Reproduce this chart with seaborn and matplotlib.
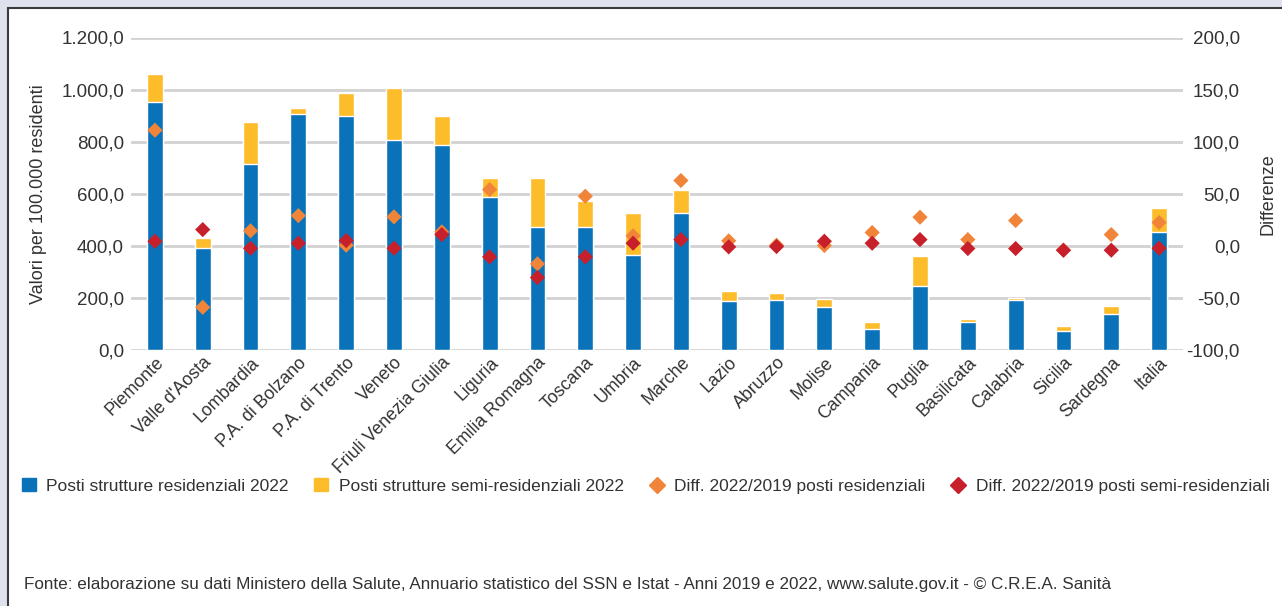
import numpy as np
import pandas as pd
import matplotlib
matplotlib.use("Agg")
import matplotlib.pyplot as plt
import seaborn as sns
from matplotlib.patches import Rectangle, Patch
from matplotlib.lines import Line2D
from matplotlib.ticker import FuncFormatter, MultipleLocator

# data
regioni = ['Piemonte', "Valle d'Aosta", 'Lombardia', 'P.A. di Bolzano', 'P.A. di Trento',
           'Veneto', 'Friuli Venezia Giulia', 'Liguria', 'Emilia Romagna', 'Toscana',
           'Umbria', 'Marche', 'Lazio', 'Abruzzo', 'Molise', 'Campania', 'Puglia',
           'Basilicata', 'Calabria', 'Sicilia', 'Sardegna', 'Italia']
posti_res = [953, 393, 714, 908, 900, 806, 787, 587, 472, 472, 365, 526,
             187, 193, 166, 79, 247, 106, 193, 73, 139, 453]
posti_semi = [107, 39, 160, 20, 88, 201, 113, 72, 187, 102, 161, 88,
              40, 27, 29, 28, 113, 14, 8, 20, 30, 94]
diff_res = [111, -59, 14.4, 29, 0.6, 27.8, 13.4, 54, -17.3, 47.6, 9.6, 62.7,
            4.8, 0.6, 0.3, 12.8, 27.5, 6, 24.3, -4.2, 10.8, 22.4]
diff_semi = [4.4, 15.6, -2.3, 2.5, 5, -2.3, 10.8, -10.6, -30.4, -10.6, 2.5, 6,
             -1, -0.7, 4.4, 2.5, 6, -2.6, -2.6, -4.2, -4.2, -2.3]

lab_res = 'Posti strutture residenziali 2022'
lab_semi = 'Posti strutture semi-residenziali 2022'
lab_dres = 'Diff. 2022/2019 posti residenziali'
lab_dsemi = 'Diff. 2022/2019 posti semi-residenziali'

blu = '#0a72b9'
giallo = '#fdbd2b'
arancio = '#f0853a'
rosso = '#c8202b'
testo = '#333333'

df = pd.DataFrame({'regione': regioni, 'res': posti_res, 'semi': posti_semi,
                   'dres': diff_res, 'dsemi': diff_semi})
df['totale'] = df['res'] + df['semi']
df['pos'] = np.arange(len(df))

sns.set_style('white')
plt.rcParams['font.family'] = ['Liberation Sans', 'DejaVu Sans']
plt.rcParams['text.color'] = testo
plt.rcParams['axes.labelcolor'] = testo
plt.rcParams['xtick.color'] = testo
plt.rcParams['ytick.color'] = testo

fig = plt.figure(figsize=(12.82, 6.06), dpi=100, facecolor='#dfe1ec')
W, H = 1282, 606
fig.patches.append(Rectangle((8 / W, -0.1), 1.2, 1 - 8 / H + 0.1, transform=fig.transFigure,
                             facecolor='white', edgecolor='#3a3a3a', lw=1.5, zorder=-1))

ax = fig.add_axes([131 / W, 1 - 350 / H, (1183 - 131) / W, (350 - 37.5) / H])
ax.set_facecolor('none')

# stacked bars: total (yellow) behind, residential (blue) in front
sns.barplot(data=df, x='regione', y='totale', color=giallo, width=0.33, saturation=1,
            ax=ax, zorder=2)
sns.barplot(data=df, x='regione', y='res', color=blu, width=0.33, saturation=1,
            ax=ax, zorder=3)

ax.set_ylim(0, 1200)
ax.set_xlim(-0.5, len(df) - 0.5)
ax.yaxis.set_major_locator(MultipleLocator(200))
it_fmt = FuncFormatter(lambda v, p: f"{v:,.1f}".replace(',', 'X').replace('.', ',').replace('X', '.'))
ax.yaxis.set_major_formatter(it_fmt)
ax.grid(axis='y', color='#d2d2d2', lw=2, zorder=0)
ax.set_axisbelow(True)
for s in ax.spines.values():
    s.set_visible(False)
ax.tick_params(axis='both', length=0, labelsize=13.5)
ax.tick_params(axis='x', labelsize=12.8, pad=3)
ax.tick_params(axis='y', pad=5)
ax.set_xlabel('')
ax.set_ylabel('Valori per 100.000 residenti', fontsize=13, labelpad=10)
plt.setp(ax.get_xticklabels(), rotation=45, ha='right', rotation_mode='anchor')

ax2 = ax.twinx()
sns.scatterplot(data=df, x='pos', y='dres', marker='D', color=arancio, s=60,
                edgecolor='none', ax=ax2, zorder=4)
sns.scatterplot(data=df, x='pos', y='dsemi', marker='D', color=rosso, s=60,
                edgecolor='none', ax=ax2, zorder=5)
ax2.set_ylim(-100, 200)
ax2.set_xlim(-0.5, len(df) - 0.5)
ax2.yaxis.set_major_locator(MultipleLocator(50))
ax2.yaxis.set_major_formatter(it_fmt)
for s in ax2.spines.values():
    s.set_visible(False)
ax2.tick_params(axis='y', length=0, labelsize=13.5, pad=41)
plt.setp(ax2.get_yticklabels(), ha='right')
ax2.set_ylabel('Differenze', fontsize=13, labelpad=14)
ax2.set_xlabel('')

handles = [Patch(color=blu), Patch(color=giallo),
           Line2D([], [], marker='D', ls='none', color=arancio, markersize=8),
           Line2D([], [], marker='D', ls='none', color=rosso, markersize=8)]
fig.legend(handles, [lab_res, lab_semi, lab_dres, lab_dsemi], loc='center left',
           bbox_to_anchor=(6 / W, 1 - 486 / H), ncol=4, frameon=False, fontsize=12.5,
           handlelength=0.8, handleheight=0.8, handletextpad=0.6, columnspacing=1.5)

fig.text(24 / W, 1 - 585 / H,
         'Fonte: elaborazione su dati Ministero della Salute, Annuario statistico del SSN e Istat - '
         'Anni 2019 e 2022, www.salute.gov.it - © C.R.E.A. Sanità',
         fontsize=12.3, va='center', ha='left')

fig.savefig('out.png', dpi=100, facecolor=fig.get_facecolor())
